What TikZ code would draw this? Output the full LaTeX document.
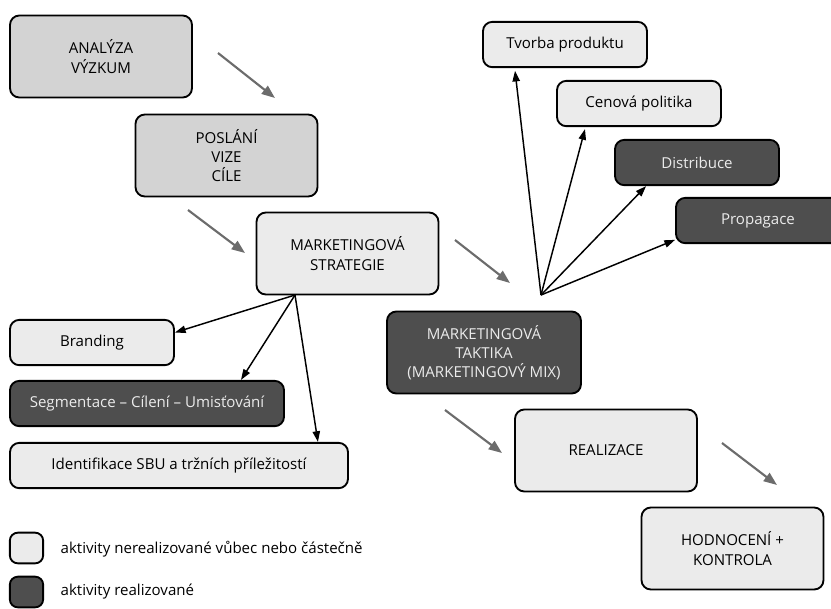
\documentclass[tikz,border=0pt]{standalone}
\usepackage{fontspec}
\setmainfont{Open Sans}
\usetikzlibrary{arrows.meta}

\definecolor{boxlight}{HTML}{EBEBEB}
\definecolor{boxmid}{HTML}{D3D3D3}
\definecolor{boxdark}{HTML}{4E4E4E}
\definecolor{arrowgray}{HTML}{6C6C6C}

\tikzset{
  box/.style={draw=black,line width=1.4pt,rounded corners=7pt,fill=boxlight,
    text=black,align=center,font=\fontsize{11.3}{14.5}\selectfont,inner sep=2pt},
  darkbox/.style={box,fill=boxdark,text=white!92!black},
  midbox/.style={box,fill=boxmid},
  bigbox/.style={minimum width=136.5pt,minimum height=61.5pt},
  smallbox/.style={minimum width=123pt,minimum height=34pt},
  flowarrow/.style={draw=arrowgray,line width=1.6pt,-{Triangle[length=10pt,width=7.5pt]}},
  fanarrow/.style={draw=black,line width=1.1pt,-{Triangle[length=8pt,width=5.5pt]}}
}

\begin{document}
\begin{tikzpicture}[x=0.75pt,y=-0.75pt]
        \useasboundingbox (0,0) rectangle (831,608);
        % main flow
        \node[midbox,bigbox] (analyza) at (101,56.5) {ANALÝZA\\VÝZKUM};
        \node[midbox,bigbox] (poslani) at (226.5,155.5) {POSLÁNÍ\\VIZE\\CÍLE};
        \node[box,bigbox] (strategie) at (347.5,253.5) {MARKETINGOVÁ\\STRATEGIE};
        \node[darkbox,bigbox,minimum width=145.5pt] (taktika) at (484,352.5) {MARKETINGOVÁ\\TAKTIKA\\(MARKETINGOVÝ MIX)};
        \node[box,bigbox] (realizace) at (606,450.5) {REALIZACE};
        \node[box,bigbox] (hodnoceni) at (732.5,548.5) {HODNOCENÍ +\\KONTROLA};
        % marketing mix
        \node[box,smallbox] (tvorba) at (565,44.5) {Tvorba produktu};
        \node[box,smallbox] (cenova) at (639,103.5) {Cenová politika};
        \node[darkbox,smallbox] (distribuce) at (697,162.5) {Distribuce};
        \node[darkbox,smallbox] (propagace) at (758,220.5) {Propagace};
        % strategy parts
        \node[box,smallbox] (branding) at (92,342.5) {Branding};
        \node[darkbox,smallbox,minimum width=205.5pt] (segmentace) at (147,403.5) {Segmentace – Cílení – Umisťování};
        \node[box,smallbox,minimum width=253.5pt] (identifikace) at (179,465.5) {Identifikace SBU a tržních příležitostí};
        % legend
        \node[box,minimum width=25pt,minimum height=23pt,rounded corners=6pt] (legendlight) at (26.5,548) {};
        \node[darkbox,minimum width=25pt,minimum height=23pt,rounded corners=6pt] (legenddark) at (26.5,592) {};
        \node[anchor=west,text=black,font=\fontsize{11.3}{14.5}\selectfont] (legendlighttext) at (56,549) {aktivity nerealizované vůbec nebo částečně};
        \node[anchor=west,text=black,font=\fontsize{11.3}{14.5}\selectfont] (legenddarktext) at (56,592) {aktivity realizované};

        % gray flow arrows
        \coordinate (f1a) at (218,53);  \coordinate (f1b) at (275,98);
        \coordinate (f2a) at (188,210); \coordinate (f2b) at (245,253);
        \coordinate (f3a) at (455,240); \coordinate (f3b) at (510,283);
        \coordinate (f4a) at (445,410); \coordinate (f4b) at (502,453);
        \coordinate (f5a) at (722,443); \coordinate (f5b) at (777,485);
        \foreach \i in {1,...,5}
          \draw[flowarrow] (f\i a) -- (f\i b);

        % fans
        \coordinate (strathub) at (295,295);
        \coordinate (mixhub) at (541,295);
        \draw[fanarrow] (strathub) -- ([yshift=7.5pt]branding.east);
        \draw[fanarrow] (strathub) -- ([xshift=70.5pt]segmentace.north);
        \draw[fanarrow] (strathub) -- ([xshift=-23.25pt]identifikace.north east);
        \draw[fanarrow] (mixhub) -- ([xshift=-37.5pt,yshift=-2pt]tvorba.south);
        \draw[fanarrow] (mixhub) -- ([xshift=-40.5pt,yshift=-1.5pt]cenova.south);
        \draw[fanarrow] (mixhub) -- ([xshift=24pt]distribuce.south west);
        \draw[fanarrow] (mixhub) -- ([yshift=-14.5pt]propagace.west);
\end{tikzpicture}
\end{document}
